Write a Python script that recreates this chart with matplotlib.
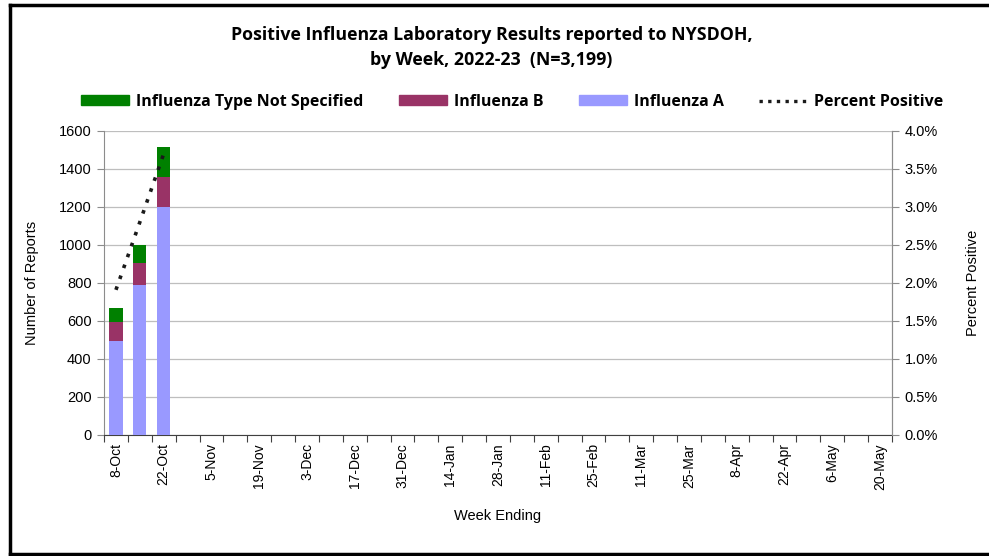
import matplotlib
matplotlib.use("Agg")
import matplotlib.pyplot as plt
from matplotlib.patches import Patch
from matplotlib.lines import Line2D
import numpy as np

weeks = ["8-Oct", "15-Oct", "22-Oct", "29-Oct", "5-Nov", "12-Nov", "19-Nov", "26-Nov",
         "3-Dec", "10-Dec", "17-Dec", "24-Dec", "31-Dec", "7-Jan", "14-Jan", "21-Jan",
         "28-Jan", "4-Feb", "11-Feb", "18-Feb", "25-Feb", "4-Mar", "11-Mar", "18-Mar",
         "25-Mar", "1-Apr", "8-Apr", "15-Apr", "22-Apr", "29-Apr", "6-May", "13-May", "20-May"]
flu_a = [495, 790, 1200]
flu_b = [101, 117, 160]
flu_ns = [74, 93, 155]
pct_pos = [1.91, 2.80, 3.70]
yticks_left = [0, 200, 400, 600, 800, 1000, 1200, 1400, 1600]
yticks_right = [0.0, 0.5, 1.0, 1.5, 2.0, 2.5, 3.0, 3.5, 4.0]

C_A = "#9999FF"
C_B = "#993366"
C_NS = "#008000"

plt.rcParams["font.family"] = ["Liberation Sans", "DejaVu Sans"]

W, H = 989, 556
fig = plt.figure(figsize=(W / 100, H / 100), dpi=100)
ax = fig.add_axes([104 / W, 1 - 435 / H, 788 / W, 304 / H])

n = len(weeks)
x = np.arange(n)
k = len(flu_a)
xa = x[:k]
a = np.array(flu_a); b = np.array(flu_b); ns = np.array(flu_ns)
bw = 0.55
ax.bar(xa, a, width=bw, color=C_A, zorder=3)
ax.bar(xa, b, width=bw, bottom=a, color=C_B, zorder=3)
ax.bar(xa, ns, width=bw, bottom=a + b, color=C_NS, zorder=3)

ax.set_xlim(-0.5, n - 0.5)
ax.set_ylim(0, 1600)
ax.set_yticks(yticks_left)
ax.yaxis.grid(True, color="#BEBEBE", linewidth=0.9, zorder=0)
ax.set_axisbelow(True)

# x ticks: marks at boundaries, labels every other week
ax.set_xticks(np.arange(-0.5, n, 1.0))
ax.tick_params(axis="x", which="major", length=5, color="#404040", labelbottom=False)
ax.set_xticks(x[::2], minor=True)
ax.set_xticklabels(weeks[::2], minor=True, rotation=90, fontsize=10)
ax.tick_params(axis="x", which="minor", length=0, pad=6)

ax.tick_params(axis="y", length=5, color="#8C8C8C", labelsize=10.5, pad=4)
for s in ["left", "right"]:
    ax.spines[s].set_color("#8C8C8C")
ax.spines["top"].set_visible(False)
ax.spines["bottom"].set_color("#404040")

ax.set_ylabel("Number of Reports", fontsize=10.5, labelpad=14)
ax.set_xlabel("Week Ending", fontsize=10.5, labelpad=14)

ax2 = ax.twinx()
ax2.set_ylim(0, 4.0)
ax2.set_yticks(yticks_right)
ax2.set_yticklabels([f"{v:.1f}%" for v in yticks_right])
ax2.tick_params(axis="y", length=5, color="#8C8C8C", labelsize=10.5, pad=4)
ax2.spines["right"].set_color("#8C8C8C")
ax2.spines["left"].set_visible(False)
ax2.spines["top"].set_visible(False)
ax2.spines["bottom"].set_visible(False)
ax2.plot(xa, pct_pos, linestyle=(0, (1, 2.2)), color="#1a1a1a", linewidth=2.6, zorder=5)
ax2.set_ylabel("Percent Positive", fontsize=10.5, labelpad=20)

fig.text(0.497, 1 - 35 / H, "Positive Influenza Laboratory Results reported to NYSDOH,",
         ha="center", va="center", fontsize=12.8, fontweight="bold", family=["Open Sans", "DejaVu Sans"])
fig.text(0.497, 1 - 60 / H, "by Week, 2022-23  (N=3,199)",
         ha="center", va="center", fontsize=12.8, fontweight="bold", family=["Open Sans", "DejaVu Sans"])

handles = [Patch(color=C_NS), Patch(color=C_B), Patch(color=C_A),
           Line2D([], [], linestyle=(0, (1, 1.6)), color="#1a1a1a", linewidth=2.4)]
labels = ["Influenza Type Not Specified", "Influenza B", "Influenza A", "Percent Positive"]
leg = fig.legend(handles, labels, loc="center", bbox_to_anchor=(0.518, 1 - 102 / H), ncol=4,
                 frameon=False, handlelength=3.0, handleheight=0.6, handletextpad=0.45,
                 columnspacing=2.2, prop={"family": ["Open Sans", "DejaVu Sans"], "weight": "bold", "size": 11.5})

# outer frame: left, top, bottom edges
xl, xr = 9.5 / W, 1.0
yt, yb = 1 - 5 / H, 1 - 553.5 / H
for xs, ys in [([xl, xl], [yb, yt]), ([xl, xr], [yt, yt]), ([xl, xr], [yb, yb])]:
    fig.add_artist(Line2D(xs, ys, transform=fig.transFigure, color="black", linewidth=2.5,
                          solid_capstyle="projecting"))

fig.savefig("out.png", dpi=100)
